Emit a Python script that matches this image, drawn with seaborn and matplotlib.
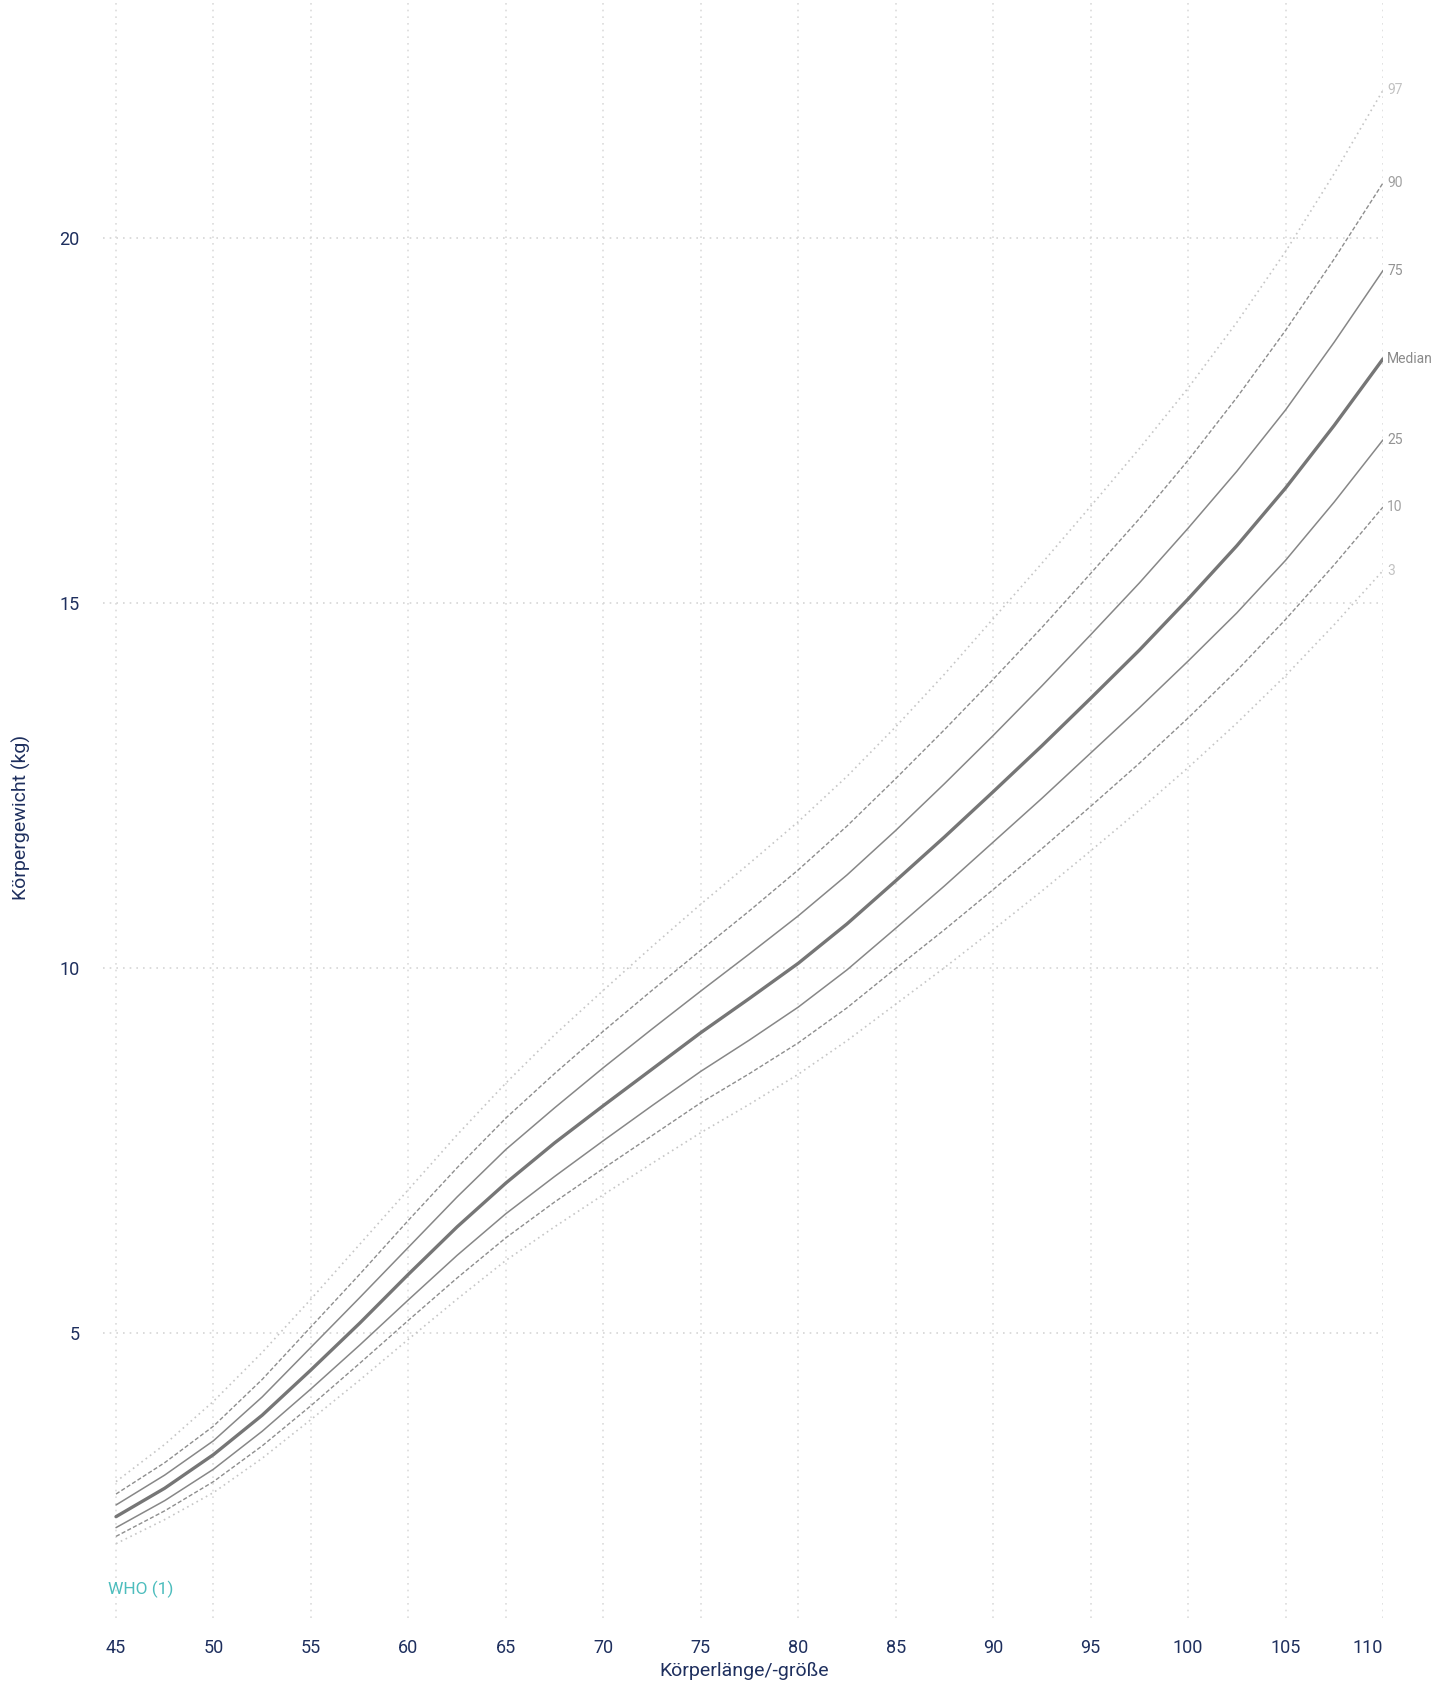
import numpy as np
import pandas as pd
import matplotlib
matplotlib.use("Agg")
import matplotlib.pyplot as plt
import seaborn as sns

# ---------------- data ----------------
length_cm = [45, 47.5, 50, 52.5, 55, 57.5, 60, 62.5, 65, 67.5, 70, 72.5, 75, 77.5,
             80, 82.5, 85, 87.5, 90, 92.5, 95, 97.5, 100, 102.5, 105, 107.5, 110]

p97 = [2.96, 3.47, 4.06, 4.73, 5.46, 6.21, 6.96, 7.71, 8.42, 9.08, 9.69, 10.29, 10.87, 11.43,
       12.00, 12.62, 13.30, 14.02, 14.78, 15.54, 16.32, 17.11, 17.94, 18.84, 19.81, 20.88, 22.02]
p90 = [2.79, 3.22, 3.72, 4.36, 5.08, 5.80, 6.54, 7.26, 7.94, 8.55, 9.13, 9.69, 10.24, 10.78,
       11.34, 11.94, 12.59, 13.26, 13.95, 14.66, 15.40, 16.15, 16.95, 17.81, 18.73, 19.71, 20.75]
p75 = [2.64, 3.05, 3.52, 4.12, 4.80, 5.48, 6.17, 6.86, 7.51, 8.08, 8.63, 9.16, 9.68, 10.19,
       10.71, 11.27, 11.88, 12.52, 13.18, 13.86, 14.56, 15.27, 16.02, 16.80, 17.64, 18.57, 19.55]
p50 = [2.48, 2.87, 3.33, 3.87, 4.49, 5.13, 5.80, 6.45, 7.05, 7.60, 8.11, 8.61, 9.11, 9.58,
       10.06, 10.60, 11.19, 11.79, 12.41, 13.04, 13.69, 14.35, 15.05, 15.78, 16.57, 17.43, 18.34]
p25 = [2.33, 2.70, 3.13, 3.65, 4.23, 4.83, 5.45, 6.06, 6.63, 7.14, 7.63, 8.11, 8.58, 9.01,
       9.46, 9.97, 10.54, 11.12, 11.72, 12.32, 12.94, 13.56, 14.20, 14.86, 15.58, 16.38, 17.23]
p10 = [2.21, 2.56, 2.96, 3.45, 4.00, 4.58, 5.17, 5.75, 6.30, 6.79, 7.25, 7.70, 8.15, 8.55,
       8.97, 9.45, 9.99, 10.52, 11.07, 11.63, 12.21, 12.80, 13.42, 14.07, 14.77, 15.52, 16.31]
p3 = [2.11, 2.44, 2.81, 3.28, 3.81, 4.35, 4.91, 5.46, 5.99, 6.45, 6.89, 7.32, 7.74, 8.13,
      8.54, 9.00, 9.50, 10.00, 10.52, 11.05, 11.60, 12.16, 12.74, 13.35, 14.00, 14.70, 15.44]

curve_labels = ["97", "90", "75", "Median", "25", "10", "3"]
curve_values = [p97, p90, p75, p50, p25, p10, p3]

x_ticks = [45, 50, 55, 60, 65, 70, 75, 80, 85, 90, 95, 100, 105, 110]
y_ticks = [5, 10, 15, 20]

x_label = "Körperlänge/-größe"
y_label = "Körpergewicht (kg)"
source_label = "WHO (1)"

# ---------------- style ----------------
sns.set_theme(style="white")
plt.rcParams["font.family"] = ["Roboto", "DejaVu Sans"]

navy = "#1e2f5e"
styles = {
    "97":     dict(color="#c6c6c6", lw=1.2, ls=(0, (1, 2.2)), tc="#c2c2c2"),
    "90":     dict(color="#8e8e8e", lw=1.0, ls=(0, (3, 1.6)), tc="#a0a0a0"),
    "75":     dict(color="#878787", lw=1.1, ls="-", tc="#939393"),
    "Median": dict(color="#767676", lw=2.4, ls="-", tc="#8a8a8a"),
    "25":     dict(color="#878787", lw=1.1, ls="-", tc="#939393"),
    "10":     dict(color="#8e8e8e", lw=1.0, ls=(0, (3, 1.6)), tc="#a0a0a0"),
    "3":      dict(color="#c6c6c6", lw=1.2, ls=(0, (1, 2.2)), tc="#c2c2c2"),
}

W, H = 1437, 1685
fig = plt.figure(figsize=(W / 100, H / 100), dpi=100)
ax = fig.add_axes([103 / W, 1 - 1618 / H, (1383 - 103) / W, 1618 / H])

rows = []
for lab, vals in zip(curve_labels, curve_values):
    for x, y in zip(length_cm, vals):
        rows.append({"length": x, "weight": y, "curve": lab})
df = pd.DataFrame(rows)

for lab in curve_labels:
    st = styles[lab]
    sub = df[df["curve"] == lab]
    sns.lineplot(data=sub, x="length", y="weight", ax=ax, color=st["color"],
                 linewidth=st["lw"], linestyle=st["ls"], sort=True,
                 estimator=None, legend=False, zorder=3)
    ax.annotate(lab, xy=(sub["length"].iloc[-1], sub["weight"].iloc[-1]),
                xytext=(3, 0), textcoords="offset points", ha="left", va="center",
                fontsize=10, color=st["tc"], annotation_clip=False)

ax.set_xlim(44.333, 110)
ax.set_ylim(1.092, 23.256)
ax.set_xticks(x_ticks)
ax.set_yticks(y_ticks)
ax.set_xticklabels([str(t) for t in x_ticks])
ax.set_yticklabels([str(t) for t in y_ticks])
ax.tick_params(axis="x", length=0, pad=15, labelsize=13, labelcolor=navy)
ax.tick_params(axis="y", length=0, pad=17, labelsize=13, labelcolor=navy)
lbls = ax.get_xticklabels()
lbls[-1].set_horizontalalignment("right")

for s in ax.spines.values():
    s.set_visible(False)

ax.grid(False)
for xt in x_ticks:
    ax.axvline(xt, color="#dcdcdc", lw=1.2, ls=(0, (1, 3)), zorder=1)
for yt in y_ticks:
    ax.axhline(yt, color="#d6d6d6", lw=1.2, ls=(0, (1, 3)), zorder=1)

ax.set_xlabel(x_label, fontsize=14, color=navy)
ax.set_ylabel(y_label, fontsize=14, color=navy)
ax.xaxis.set_label_coords((744 - 103) / (1383 - 103), -(1662 - 1618) / 1618)
ax.yaxis.set_label_coords(-(103 - 31) / (1383 - 103), 1 - 817 / 1618)

fig.text(108 / W, 1 - 1589 / H, source_label, color="#4dbdbd", fontsize=12.5,
         ha="left", va="center")

fig.savefig("out.png", dpi=100)
